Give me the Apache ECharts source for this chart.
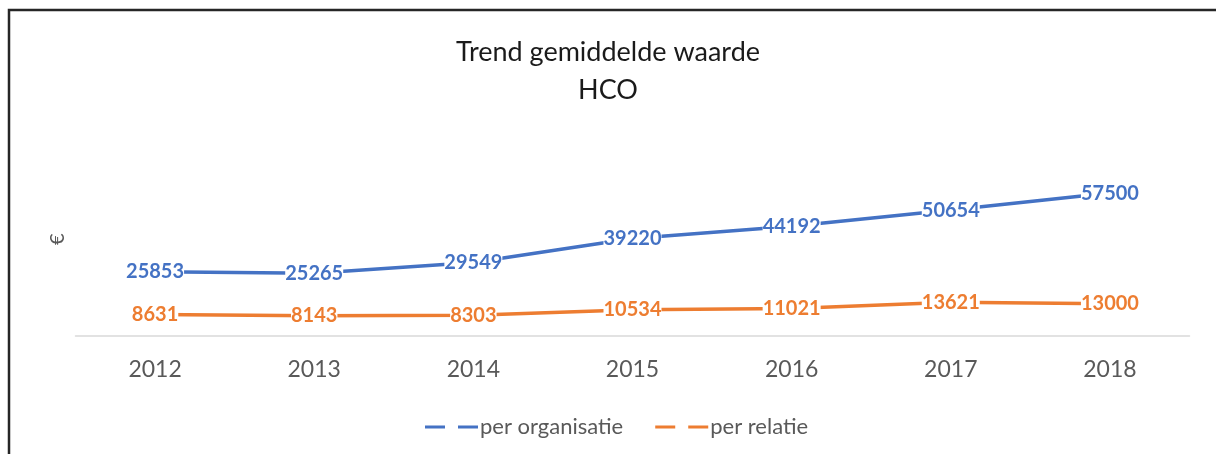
<!DOCTYPE html>
<html>
<head>
<meta charset="utf-8">
<script src="https://cdn.jsdelivr.net/npm/echarts@6/dist/echarts.min.js"></script>
<style>html,body{margin:0;padding:0;background:#fff}#c{width:1216px;height:454px}</style>
</head>
<body>
<div id="c"></div>
<script>
var categories = ['2012','2013','2014','2015','2016','2017','2018'];
var perOrganisatie = [25853, 25265, 29549, 39220, 44192, 50654, 57500];
var perRelatie = [8631, 8143, 8303, 10534, 11021, 13621, 13000];
var seriesNames = ['per organisatie', 'per relatie'];
var titleText = 'Trend gemiddelde waarde\nHCO';

var chart = echarts.init(document.getElementById('c'), null, {renderer: 'canvas'});
var FONT = 'Lato, "Open Sans", sans-serif';
var dashIcon = 'path://M0,0H20V3H0Z M33,0H53V3H33Z';
function mkLine(name, data, color) {
  return {
    name: name, type: 'line', data: data, z: 2,
    symbol: 'none',
    itemStyle: {color: color},
    lineStyle: {color: color, width: 3.5},
    animation: false
  };
}
function mkLabels(name, data, color) {
  return {
    name: name + ' labels', type: 'scatter', data: data, zlevel: 1, z: 10,
    symbolSize: 0, itemStyle: {color: color, opacity: 1},
    label: {show: true, position: 'inside', color: color, opacity: 1, fontWeight: 'bold', fontSize: 20, fontFamily: FONT,
            backgroundColor: '#ffffff', padding: [1, 0, 0, 0]},
    emphasis: {disabled: true},
    silent: true, animation: false
  };
}
chart.setOption({
  animation: false,
  title: {
    text: titleText, left: 'center', top: 28,
    textStyle: {fontFamily: FONT, fontSize: 27, fontWeight: 'normal', color: '#1a1a1a', lineHeight: 38}
  },
  grid: {left: 75.5, right: 26.5, top: 162, bottom: 118},
  xAxis: {
    type: 'category', data: categories, boundaryGap: true,
    axisLine: {lineStyle: {color: '#d9d9d9', width: 1.5}},
    axisTick: {show: false},
    axisLabel: {color: '#595959', fontFamily: FONT, fontSize: 23, margin: 22}
  },
  yAxis: {
    type: 'value', min: 0, max: 70000, show: false
  },
  legend: {
    left: 420, top: 411,
    itemWidth: 53, itemHeight: 3, itemGap: 32,
    textStyle: {fontFamily: FONT, fontSize: 22, color: '#595959', padding: [0,0,0,-3]},
    data: [{name: seriesNames[0], icon: dashIcon}, {name: seriesNames[1], icon: dashIcon}]
  },
  graphic: [
    {type: 'polyline', shape: {points: [[9, 454], [9, 10], [1216, 10]]}, style: {stroke: '#262626', lineWidth: 2.5, fill: null}},
    {type: 'text', x: 48, y: 245, rotation: Math.PI / 2, style: {text: '€', font: '20px ' + FONT, fill: '#595959'}}
  ],
  series: [
    mkLine(seriesNames[0], perOrganisatie, '#4472C4'),
    mkLine(seriesNames[1], perRelatie, '#ED7D31'),
    mkLabels(seriesNames[0], perOrganisatie, '#4472C4'),
    mkLabels(seriesNames[1], perRelatie, '#ED7D31')
  ]
});
</script>
</body>
</html>
